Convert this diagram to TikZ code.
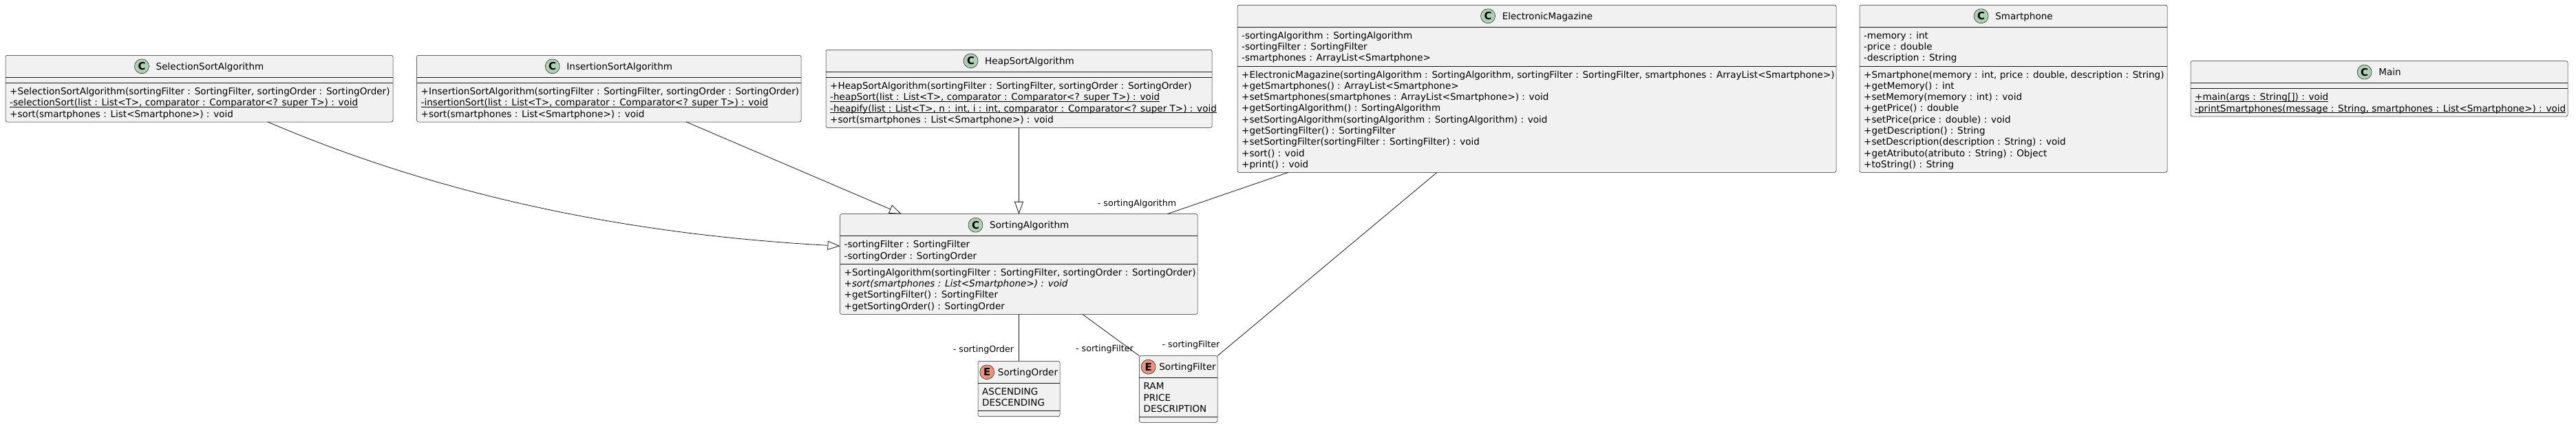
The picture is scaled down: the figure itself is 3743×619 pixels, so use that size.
\documentclass[tikz,border=0pt]{standalone}
\usepackage{fontspec}
\setmainfont{DejaVu Sans}
\usetikzlibrary{arrows.meta}
\definecolor{boxfill}{HTML}{F1F1F1}
\definecolor{lc}{HTML}{181818}
\definecolor{cgreen}{HTML}{ADD1B2}
\definecolor{ered}{HTML}{EB937F}
\newcommand\memfont{\fontsize{13.55pt}{16pt}\selectfont}
\newcommand\lblfont{\fontsize{12.6pt}{15pt}\selectfont}
\newcommand\icfont{\fontsize{15pt}{15pt}\selectfont\bfseries}
\newcommand\ulx[1]{\setbox0\hbox{#1}\rlap{\rule[-1.6pt]{\wd0}{0.6pt}}\box0}
\newcommand\rowsat[5]{\foreach \t [count=\i] in {#5} {\node[mem] (#1\i) at (#2, {#3+(\i-1)*#4+5}) {\t};}}
\newcommand\hsep[2]{\draw[sepl] (#1.west |- 0,#2) -- (#1.east |- 0,#2);}
\tikzset{
  box/.style={draw=lc, fill=boxfill, rounded corners=2.5pt, line width=0.5pt, inner sep=0pt, outer sep=0pt},
  sepl/.style={draw=lc, line width=0.5pt},
  mem/.style={anchor=base west, inner sep=0pt, font=\memfont},
  ttl/.style={anchor=base, inner sep=0pt, font=\memfont},
  cic/.style={circle, draw=lc, line width=0.5pt, fill=cgreen, minimum size=21pt, inner sep=0pt, font=\icfont},
  eic/.style={circle, draw=lc, line width=0.5pt, fill=ered, minimum size=21pt, inner sep=0pt, font=\icfont},
  lbl/.style={inner sep=0pt, font=\lblfont},
  inh/.style={draw=lc, line width=0.8pt, -{Triangle[length=18pt,width=13pt,fill=white]}},
  assoc/.style={draw=lc, line width=0.8pt}
}
\begin{document}
\begin{tikzpicture}[x=1pt,y=-1pt]
\useasboundingbox (0,0) rectangle (3743,619);
\fill[white] (0,0) rectangle (3743,619);

% SelectionSortAlgorithm
\node[box, minimum width=563pt, minimum height=96.7pt] (S1) at (289.5,128.65) {};
\hsep{S1}{112.3}\hsep{S1}{120.3}
\node[ttl] (S1t) at (305,101.3) {SelectionSortAlgorithm};
\node[cic] (S1c) at ([xshift=-20.5pt,yshift=5pt]S1t.base west) {C};
\rowsat{S1r}{14}{132.3}{16.35}{{+SelectionSortAlgorithm(sortingFilter : SortingFilter, sortingOrder : SortingOrder)},{\ulx{-selectionSort(list : List<T>, comparator : Comparator<? super T>) : void}},{+sort(smartphones : List<Smartphone>) : void}}

% InsertionSortAlgorithm
\node[box, minimum width=558.5pt, minimum height=96.7pt] (S2) at (884.75,128.65) {};
\hsep{S2}{112.3}\hsep{S2}{120.3}
\node[ttl] (S2t) at (900.25,101.3) {InsertionSortAlgorithm};
\node[cic] (S2c) at ([xshift=-20.5pt,yshift=5pt]S2t.base west) {C};
\rowsat{S2r}{611.5}{132.3}{16.35}{{+InsertionSortAlgorithm(sortingFilter : SortingFilter, sortingOrder : SortingOrder)},{\ulx{-insertionSort(list : List<T>, comparator : Comparator<? super T>) : void}},{+sort(smartphones : List<Smartphone>) : void}}

% HeapSortAlgorithm
\node[box, minimum width=561pt, minimum height=113.05pt] (S3) at (1480.5,128.825) {};
\hsep{S3}{104.3}\hsep{S3}{112.3}
\node[ttl] (S3t) at (1496,93.3) {HeapSortAlgorithm};
\node[cic] (S3c) at ([xshift=-20.5pt,yshift=5pt]S3t.base west) {C};
\rowsat{S3r}{1206}{124.3}{16.35}{{+HeapSortAlgorithm(sortingFilter : SortingFilter, sortingOrder : SortingOrder)},{\ulx{-heapSort(list : List<T>, comparator : Comparator<? super T>) : void}},{\ulx{-heapify(list : List<T>, n : int, i : int, comparator : Comparator<? super T>) : void}},{+sort(smartphones : List<Smartphone>) : void}}

% ElectronicMagazine
\node[box, minimum width=870pt, minimum height=243pt] (EM) at (2233,128.8) {};
\hsep{EM}{39.3}\hsep{EM}{96}
\node[ttl] (EMt) at (2248.5,28.3) {ElectronicMagazine};
\node[cic] (EMc) at ([xshift=-20.5pt,yshift=5pt]EMt.base west) {C};
\rowsat{EMa}{1804}{51.3}{16.3}{{-sortingAlgorithm : SortingAlgorithm},{-sortingFilter : SortingFilter},{-smartphones : ArrayList<Smartphone>}}
\rowsat{EMm}{1804}{108}{16.3}{{+ElectronicMagazine(sortingAlgorithm : SortingAlgorithm, sortingFilter : SortingFilter, smartphones : ArrayList<Smartphone>)},{+getSmartphones() : ArrayList<Smartphone>},{+setSmartphones(smartphones : ArrayList<Smartphone>) : void},{+getSortingAlgorithm() : SortingAlgorithm},{+setSortingAlgorithm(sortingAlgorithm : SortingAlgorithm) : void},{+getSortingFilter() : SortingFilter},{+setSortingFilter(sortingFilter : SortingFilter) : void},{+sort() : void},{+print() : void}}

% Smartphone
\node[box, minimum width=447pt, minimum height=243pt] (SP) at (2925.5,128.8) {};
\hsep{SP}{39.3}\hsep{SP}{96}
\node[ttl] (SPt) at (2941,28.3) {Smartphone};
\node[cic] (SPc) at ([xshift=-20.5pt,yshift=5pt]SPt.base west) {C};
\rowsat{SPa}{2708}{51.3}{16.3}{{-memory : int},{-price : double},{-description : String}}
\rowsat{SPm}{2708}{108}{16.3}{{+Smartphone(memory : int, price : double, description : String)},{+getMemory() : int},{+setMemory(memory : int) : void},{+getPrice() : double},{+setPrice(price : double) : void},{+getDescription() : String},{+setDescription(description : String) : void},{+getAtributo(atributo : String) : Object},{+toString() : String}}

% Main
\node[box, minimum width=548pt, minimum height=80.35pt] (MN) at (3457,128.825) {};
\hsep{MN}{120.65}\hsep{MN}{128.65}
\node[ttl] (MNt) at (3472.5,109.65) {Main};
\node[cic] (MNc) at ([xshift=-20.5pt,yshift=5pt]MNt.base west) {C};
\rowsat{MNr}{3189}{140.65}{16.35}{{\ulx{+main(args : String[]) : void}},{\ulx{-printSmartphones(message : String, smartphones : List<Smartphone>) : void}}}

% SortingAlgorithm
\node[box, minimum width=519.5pt, minimum height=145.7pt] (SA) at (1480.25,383.55) {};
\hsep{SA}{342.7}\hsep{SA}{383.05}
\node[ttl] (SAt) at (1495.75,331.7) {SortingAlgorithm};
\node[cic] (SAc) at ([xshift=-20.5pt,yshift=5pt]SAt.base west) {C};
\rowsat{SAa}{1226.5}{354.9}{16.3}{{-sortingFilter : SortingFilter},{-sortingOrder : SortingOrder}}
\rowsat{SAm}{1226.5}{395.1}{16.35}{{+SortingAlgorithm(sortingFilter : SortingFilter, sortingOrder : SortingOrder)},{\itshape +sort(smartphones : List<Smartphone>) : void},{+getSortingFilter() : SortingFilter},{+getSortingOrder() : SortingOrder}}

% SortingOrder
\node[box, minimum width=119pt, minimum height=80.35pt] (SO) at (1480.5,564.475) {};
\hsep{SO}{556.3}\hsep{SO}{596.65}
\node[ttl] (SOt) at (1493.5,545.3) {SortingOrder};
\node[eic] (SOc) at ([xshift=-15.5pt,yshift=5pt]SOt.base west) {E};
\rowsat{SOr}{1427}{568.3}{16.35}{{ASCENDING},{DESCENDING}}

% SortingFilter
\node[box, minimum width=113.6pt, minimum height=96.7pt] (SF) at (1712.2,565.05) {};
\hsep{SF}{548.7}\hsep{SF}{605.4}
\node[ttl] (SFt) at (1725.5,537.7) {SortingFilter};
\node[eic] (SFc) at ([xshift=-15.5pt,yshift=5pt]SFt.base west) {E};
\rowsat{SFr}{1661.4}{560.7}{16.35}{{RAM},{PRICE},{DESCRIPTION}}

% connector end points
\coordinate (s1o) at ([xshift=381pt]S1.south west);
\coordinate (sa1) at ([yshift=26.25pt]SA.west);
\coordinate (s2o) at ([xshift=391.5pt]S2.south west);
\coordinate (sa2) at ([xshift=89.5pt]SA.north west);
\coordinate (emo1) at ([xshift=74pt]EM.south west);
\coordinate (sa3) at ([xshift=475.5pt]SA.north west);
\coordinate (sao) at ([xshift=352.5pt]SA.south west);
\coordinate (emo2) at ([xshift=290pt]EM.south west);

% connectors
\draw[inh] (s1o) .. controls (700,310) and (1000,345) .. (sa1);
\draw[inh] (s2o) -- (sa2);
\draw[inh] (S3.south) -- (S3.south |- SA.north);
\draw[assoc] (emo1) -- (sa3);
\draw[assoc] (SA.south -| SO.north) -- (SO.north);
\draw[assoc] (sao) -- (SF.north west);
\draw[assoc] (emo2) -- (SF.north east);

% labels
\node[lbl] (L1) at (1652,295.7) {- sortingAlgorithm};
\node[lbl] (L2) at (1429,508.3) {- sortingOrder};
\node[lbl] (L3) at (1605,506.7) {- sortingFilter};
\node[lbl] (L4) at (1730.5,500.7) {- sortingFilter};
\end{tikzpicture}
\end{document}
